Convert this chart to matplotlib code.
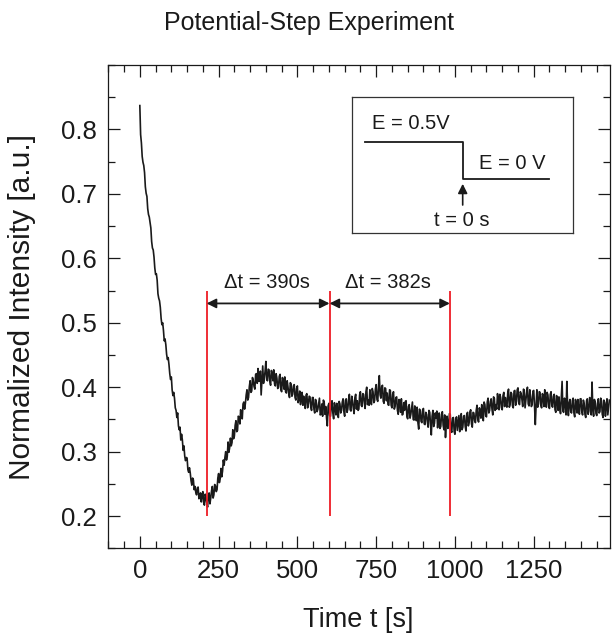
import numpy as np
import matplotlib
matplotlib.use("Agg")
import matplotlib.pyplot as plt
from matplotlib.ticker import MultipleLocator, FixedLocator

plt.rcParams['font.family'] = ['Liberation Sans', 'DejaVu Sans']

# Normalized intensity sampled every 2.5 s after the potential step
sample_interval = 2.5
intensity = [
    0.837, 0.792, 0.779, 0.758, 0.749, 0.744, 0.733, 0.711, 0.701, 0.696,
    0.677, 0.668, 0.664, 0.655, 0.647, 0.626, 0.616, 0.613, 0.602, 0.585,
    0.575, 0.576, 0.566, 0.545, 0.538, 0.534, 0.524, 0.507, 0.497, 0.500,
    0.488, 0.472, 0.475, 0.466, 0.451, 0.443, 0.446, 0.435, 0.421, 0.412,
    0.416, 0.396, 0.387, 0.392, 0.383, 0.368, 0.364, 0.353, 0.360, 0.340,
    0.334, 0.338, 0.318, 0.327, 0.318, 0.302, 0.309, 0.293, 0.286, 0.291,
    0.290, 0.272, 0.268, 0.275, 0.267, 0.255, 0.248, 0.259, 0.256, 0.241,
    0.246, 0.237, 0.233, 0.244, 0.245, 0.227, 0.229, 0.236, 0.222, 0.233,
    0.238, 0.221, 0.217, 0.234, 0.229, 0.220, 0.214, 0.232, 0.236, 0.219,
    0.228, 0.239, 0.246, 0.228, 0.233, 0.249, 0.247, 0.238, 0.241, 0.259,
    0.266, 0.252, 0.258, 0.274, 0.261, 0.270, 0.287, 0.279, 0.291, 0.300,
    0.287, 0.293, 0.315, 0.299, 0.306, 0.321, 0.309, 0.314, 0.334, 0.320,
    0.324, 0.341, 0.348, 0.331, 0.333, 0.355, 0.353, 0.343, 0.365, 0.352,
    0.351, 0.374, 0.377, 0.366, 0.375, 0.388, 0.396, 0.380, 0.384, 0.401,
    0.410, 0.392, 0.394, 0.415, 0.410, 0.401, 0.397, 0.420, 0.421, 0.406,
    0.429, 0.409, 0.410, 0.425, 0.388, 0.412, 0.433, 0.406, 0.414, 0.425,
    0.440, 0.412, 0.410, 0.428, 0.427, 0.409, 0.403, 0.426, 0.421, 0.410,
    0.427, 0.405, 0.402, 0.421, 0.414, 0.398, 0.400, 0.417, 0.420, 0.396,
    0.393, 0.415, 0.411, 0.397, 0.416, 0.393, 0.391, 0.410, 0.401, 0.390,
    0.384, 0.407, 0.405, 0.386, 0.389, 0.402, 0.404, 0.384, 0.380, 0.398,
    0.402, 0.376, 0.381, 0.394, 0.373, 0.387, 0.392, 0.372, 0.386, 0.375,
    0.367, 0.388, 0.390, 0.368, 0.375, 0.386, 0.385, 0.369, 0.364, 0.384,
    0.384, 0.366, 0.360, 0.381, 0.377, 0.362, 0.366, 0.375, 0.383, 0.357,
    0.359, 0.374, 0.355, 0.380, 0.377, 0.358, 0.370, 0.352, 0.340, 0.371,
    0.375, 0.356, 0.355, 0.372, 0.379, 0.360, 0.351, 0.376, 0.368, 0.357,
    0.375, 0.361, 0.353, 0.378, 0.374, 0.360, 0.364, 0.377, 0.382, 0.362,
    0.355, 0.380, 0.382, 0.361, 0.366, 0.381, 0.389, 0.365, 0.363, 0.386,
    0.379, 0.367, 0.359, 0.384, 0.389, 0.366, 0.379, 0.364, 0.366, 0.388,
    0.393, 0.372, 0.370, 0.390, 0.389, 0.375, 0.367, 0.393, 0.400, 0.373,
    0.380, 0.372, 0.396, 0.379, 0.373, 0.398, 0.393, 0.376, 0.379, 0.397,
    0.404, 0.381, 0.378, 0.402, 0.418, 0.388, 0.383, 0.401, 0.403, 0.378,
    0.375, 0.399, 0.398, 0.379, 0.391, 0.373, 0.372, 0.396, 0.395, 0.372,
    0.368, 0.389, 0.393, 0.366, 0.370, 0.384, 0.385, 0.364, 0.358, 0.381,
    0.377, 0.361, 0.382, 0.357, 0.358, 0.376, 0.364, 0.378, 0.379, 0.354,
    0.351, 0.370, 0.373, 0.352, 0.358, 0.368, 0.377, 0.350, 0.349, 0.371,
    0.363, 0.348, 0.369, 0.345, 0.335, 0.366, 0.363, 0.347, 0.345, 0.365,
    0.367, 0.343, 0.342, 0.361, 0.358, 0.346, 0.338, 0.364, 0.361, 0.342,
    0.326, 0.355, 0.364, 0.339, 0.344, 0.360, 0.352, 0.363, 0.337, 0.358,
    0.360, 0.336, 0.339, 0.358, 0.362, 0.341, 0.334, 0.357, 0.322, 0.344,
    0.355, 0.336, 0.342, 0.359, 0.358, 0.333, 0.330, 0.352, 0.353, 0.331,
    0.327, 0.351, 0.354, 0.333, 0.345, 0.356, 0.331, 0.349, 0.359, 0.334,
    0.338, 0.355, 0.356, 0.339, 0.332, 0.358, 0.361, 0.340, 0.345, 0.362,
    0.365, 0.343, 0.338, 0.361, 0.360, 0.348, 0.345, 0.364, 0.372, 0.350,
    0.346, 0.368, 0.362, 0.352, 0.373, 0.355, 0.348, 0.377, 0.373, 0.356,
    0.354, 0.377, 0.383, 0.360, 0.364, 0.378, 0.382, 0.366, 0.357, 0.385,
    0.383, 0.364, 0.373, 0.366, 0.390, 0.382, 0.365, 0.389, 0.384, 0.368,
    0.365, 0.387, 0.392, 0.370, 0.384, 0.372, 0.369, 0.391, 0.397, 0.369,
    0.373, 0.392, 0.390, 0.371, 0.368, 0.394, 0.395, 0.372, 0.378, 0.396,
    0.399, 0.375, 0.373, 0.393, 0.390, 0.381, 0.370, 0.397, 0.395, 0.368,
    0.380, 0.391, 0.400, 0.374, 0.371, 0.396, 0.385, 0.370, 0.373, 0.394,
    0.395, 0.371, 0.342, 0.372, 0.396, 0.369, 0.374, 0.393, 0.392, 0.372,
    0.368, 0.390, 0.386, 0.370, 0.396, 0.373, 0.369, 0.392, 0.388, 0.370,
    0.367, 0.389, 0.393, 0.371, 0.369, 0.386, 0.389, 0.365, 0.361, 0.387,
    0.381, 0.364, 0.385, 0.368, 0.359, 0.384, 0.409, 0.363, 0.361, 0.383,
    0.378, 0.357, 0.409, 0.372, 0.356, 0.376, 0.381, 0.362, 0.360, 0.379,
    0.383, 0.360, 0.354, 0.381, 0.374, 0.360, 0.381, 0.365, 0.358, 0.382,
    0.382, 0.362, 0.357, 0.380, 0.375, 0.358, 0.353, 0.379, 0.382, 0.358,
    0.363, 0.384, 0.378, 0.357, 0.408, 0.366, 0.355, 0.381, 0.377, 0.359,
    0.356, 0.375, 0.382, 0.360, 0.362, 0.383, 0.379, 0.358, 0.353, 0.380,
    0.376, 0.355, 0.371, 0.382, 0.357, 0.368, 0.380,
]
time_s = np.arange(len(intensity)) * sample_interval

# Times of the marked minima and the period labels between them
marker_times = [212, 602, 984]
period_labels = ["\u0394t = 390s", "\u0394t = 382s"]

x_ticks = [0, 250, 500, 750, 1000, 1250]
y_ticks = [0.2, 0.3, 0.4, 0.5, 0.6, 0.7, 0.8]

ink = '#1a1a1a'
red = '#ee1c25'

fig = plt.figure(figsize=(6.13, 6.37), dpi=100)
ax = fig.add_axes([0.1767, 0.1392, 0.8184, 0.7588])

ax.plot(time_s, intensity, color=ink, lw=1.2)

ax.set_xlim(-100, 1492)
ax.set_ylim(0.15, 0.9)

ax.xaxis.set_major_locator(FixedLocator(x_ticks))
ax.xaxis.set_minor_locator(MultipleLocator(50))
ax.yaxis.set_major_locator(FixedLocator(y_ticks))
ax.yaxis.set_minor_locator(MultipleLocator(0.05))
ax.set_xticklabels([str(v) for v in x_ticks])
ax.set_yticklabels([f"{v:.1f}" for v in y_ticks])

ax.tick_params(which='both', direction='in', top=True, right=True,
               color=ink, width=0.9)
ax.tick_params(which='major', length=8.6, labelsize=18.5, pad=8,
               labelcolor=ink)
ax.tick_params(axis='y', which='major', pad=8.5)
ax.tick_params(which='minor', length=4.7)
for s in ax.spines.values():
    s.set_linewidth(0.9)
    s.set_color(ink)

# Vertical markers at successive minima
ax.vlines(marker_times, 0.2, 0.55, color=red, lw=1.3, zorder=3)

# Double-headed arrows spanning each period
for t0, t1, lab in zip(marker_times[:-1], marker_times[1:], period_labels):
    ax.annotate('', xy=(t1, 0.53), xytext=(t0, 0.53),
                arrowprops=dict(arrowstyle='<|-|>', color=ink, lw=1.3,
                                mutation_scale=14, shrinkA=0, shrinkB=0))
    ax.text((t0 + t1) / 2 - 5, 0.563, lab, ha='center', va='center',
            fontsize=14.5, color=ink)

# Schematic of the applied potential step
ins = ax.inset_axes([0.485, 0.653, 0.441, 0.281])
ins.set_xlim(0, 1)
ins.set_ylim(0, 1)
ins.set_xticks([])
ins.set_yticks([])
for s in ins.spines.values():
    s.set_linewidth(0.9)
    s.set_color('#333333')
ins.plot([0.06, 0.504, 0.504, 0.893], [0.669, 0.669, 0.393, 0.393],
         color=ink, lw=1.3)
ins.annotate('', xy=(0.502, 0.36), xytext=(0.502, 0.204),
             arrowprops=dict(arrowstyle='-|>', color=ink, lw=1.2,
                             mutation_scale=14, shrinkA=0, shrinkB=0))
ins.text(0.09, 0.807, 'E = 0.5V', ha='left', va='center', fontsize=14.5, color=ink)
ins.text(0.577, 0.51, 'E = 0 V', ha='left', va='center', fontsize=14.5, color=ink)
ins.text(0.498, 0.093, 't = 0 s', ha='center', va='center', fontsize=14.5, color=ink)

fig.text(309 / 613, 1 - 23 / 637, 'Potential-Step Experiment',
         ha='center', va='center', fontsize=18, color=ink)
fig.text(358 / 613, 1 - 620 / 637, 'Time t [s]',
         ha='center', va='center', fontsize=19.5, color=ink)
fig.text(22 / 613, 1 - 306.7 / 637, 'Normalized Intensity [a.u.]',
         ha='center', va='center', rotation=90, fontsize=21.5, color=ink)

fig.savefig('out.png', dpi=100)
